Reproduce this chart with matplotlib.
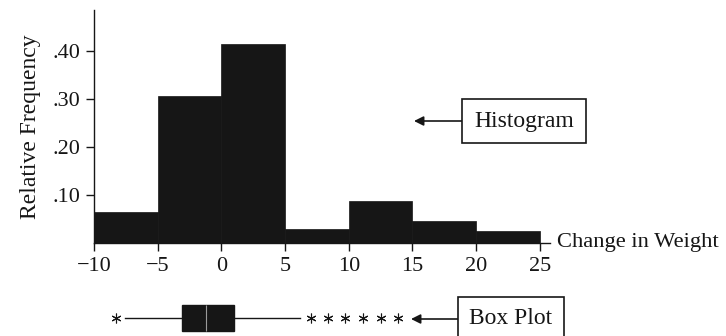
import matplotlib.pyplot as plt

plt.rcParams["font.family"] = ["Liberation Serif", "DejaVu Serif"]

# histogram: class edges and relative frequencies
bin_edges = [-10, -5, 0, 5, 10, 15, 20, 25]
rel_freq = [0.065, 0.305, 0.415, 0.03, 0.088, 0.046, 0.025]

x_ticks = [-10, -5, 0, 5, 10, 15, 20, 25]
x_tick_labels = ["\u221210", "\u22125", "0", "5", "10", "15", "20", "25"]
y_ticks = [0.10, 0.20, 0.30, 0.40]
y_tick_labels = [".10", ".20", ".30", ".40"]

# box plot summary
box_q1 = -3.1
box_med = -1.2
box_q3 = 1.0
whisker_lo = -7.6
whisker_hi = 6.2
outliers = [-8.3, 7.0, 8.4, 9.7, 11.1, 12.5, 13.9]

INK = "#161616"

fig = plt.figure(figsize=(7.26, 3.36), dpi=100)
W, H = 726, 336


def frac(x0, y0, x1, y1):
    # pixel box (top-left origin) -> figure fraction rect
    return [x0 / W, 1 - y1 / H, (x1 - x0) / W, (y1 - y0) / H]


ax = fig.add_axes(frac(94, 10, 550, 243))
widths = [b - a for a, b in zip(bin_edges[:-1], bin_edges[1:])]
ax.bar(bin_edges[:-1], rel_freq, width=widths, align="edge",
       color=INK, edgecolor=INK, linewidth=0.5)
ax.set_xlim(-10, 25.8)
ax.set_ylim(0, 0.485)
ax.set_xticks(x_ticks)
ax.set_xticklabels(x_tick_labels)
ax.set_yticks(y_ticks)
ax.set_yticklabels(y_tick_labels)
ax.tick_params(axis="both", labelsize=16, length=6, width=1.0, color=INK,
               labelcolor=INK, pad=4)
for s in ["top", "right"]:
    ax.spines[s].set_visible(False)
for s in ["left", "bottom"]:
    ax.spines[s].set_color(INK)
    ax.spines[s].set_linewidth(1.0)
ax.set_ylabel("Relative Frequency", fontsize=17, color=INK, labelpad=8)

fig.text(557 / W, 1 - 243 / H, "Change in Weight", fontsize=16.2, color=INK,
         ha="left", va="center")

# box plot row
bx = fig.add_axes(frac(94, 300, 550, 336))
bx.set_xlim(-10, 25.8)
bx.set_ylim(0, 1)
bx.axis("off")
stats = [{"med": box_med, "q1": box_q1, "q3": box_q3,
          "whislo": whisker_lo, "whishi": whisker_hi, "fliers": outliers}]
bx.bxp(stats, positions=[0.5], widths=0.72, orientation="horizontal",
       showcaps=False, patch_artist=True,
       boxprops=dict(facecolor=INK, edgecolor=INK, linewidth=1),
       medianprops=dict(color="#9a9a9a", linewidth=0.8),
       whiskerprops=dict(color=INK, linewidth=1),
       flierprops=dict(marker=(6, 2, 0), markersize=7, markeredgecolor=INK,
                       markeredgewidth=0.8, linestyle="none"))

box_style = dict(boxstyle="square,pad=0.5", facecolor="white",
                 edgecolor=INK, linewidth=1.2)
arrow_style = dict(arrowstyle="-|>", color=INK, lw=1.2, mutation_scale=14,
                   shrinkA=0, shrinkB=0)

fig.text(524 / W, 1 - 121 / H, "Histogram", fontsize=17, color=INK,
         ha="center", va="center", bbox=box_style)
fig.text(511 / W, 1 - 319 / H, "Box Plot", fontsize=17, color=INK,
         ha="center", va="center", bbox=box_style)
fig.add_artist(plt.matplotlib.patches.FancyArrowPatch(
    (463 / W, 1 - 121 / H), (414 / W, 1 - 121 / H),
    transform=fig.transFigure, **arrow_style))
fig.add_artist(plt.matplotlib.patches.FancyArrowPatch(
    (462 / W, 1 - 319 / H), (411 / W, 1 - 319 / H),
    transform=fig.transFigure, **arrow_style))

fig.savefig("out.png", dpi=100)
